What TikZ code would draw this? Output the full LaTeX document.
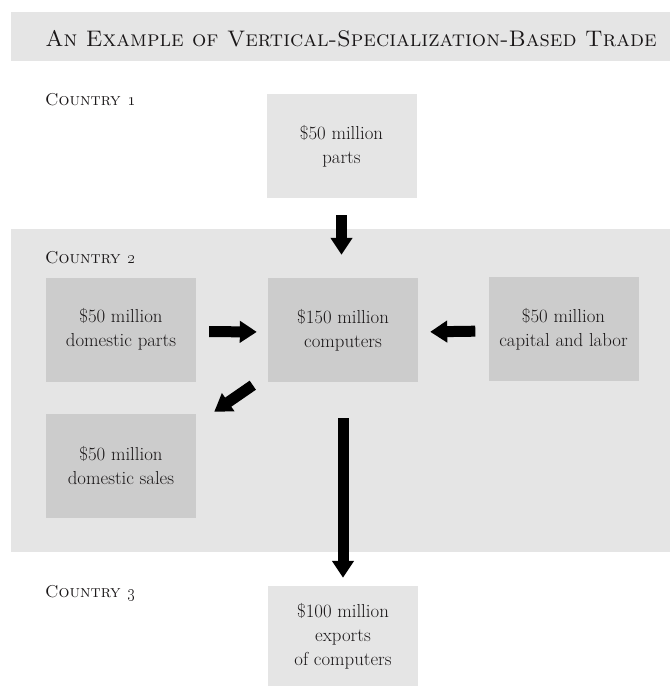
\documentclass[tikz,border=0pt]{standalone}
\usetikzlibrary{arrows.meta}
\definecolor{bandgray}{gray}{0.9}
\definecolor{boxgray}{gray}{0.8}
\definecolor{ink}{HTML}{1A1718}
\begin{document}
\begin{tikzpicture}[x=1pt,y=1pt,
  lbox/.style={fill=bandgray, minimum width=150pt, minimum height=104pt, inner sep=0pt, align=center, text=ink, font=\fontsize{18.8}{24}\selectfont},
  dbox/.style={lbox, fill=boxgray},
  country/.style={anchor=base west, inner sep=0pt, text=ink, font=\fontsize{17.2}{20}\selectfont\scshape},
  fat/.style={line width=11pt, draw=black, -{Triangle[length=17pt,width=21pt]}}
]
\useasboundingbox (0,0) rectangle (670,-686);
\fill[bandgray] (11,-12) rectangle (670,-61);
\fill[bandgray] (11,-229) rectangle (670,-552);
\node[anchor=base, inner sep=0pt, text=ink, font=\fontsize{22.5}{26}\selectfont\scshape] (title) at (351,-46) {An Example of Vertical-Specialization-Based Trade};

\node[country] (c1) at (45,-105) {Country \oldstylenums{1}};
\node[country] (c2) at (45,-263) {Country \oldstylenums{2}};
\node[country] (c3) at (45,-597) {Country \oldstylenums{3}};

\node[lbox] (parts) at (341.5,-146) {\$50 million\\parts};
\node[dbox] (dparts) at (121,-329.5) {\$50 million\\domestic parts};
\node[dbox] (comp) at (343,-330) {\$150 million\\computers};
\node[dbox] (cap) at (563.5,-329) {\$50 million\\capital and labor};
\node[dbox] (sales) at (121,-466) {\$50 million\\domestic sales};
\node[lbox, minimum height=100pt] (exports) at (343,-636) {\$100 million\\exports\\of computers};

\draw[fat, shorten <=17pt, shorten >=23pt] (parts.south) -- (parts.south |- comp.north);
\draw[fat, shorten <=13pt, shorten >=11pt] ([yshift=-2pt]dparts.east) -- ([yshift=-2pt]comp.west);
\draw[fat, shorten <=13pt, shorten >=12pt] ([yshift=-2pt]cap.west) -- ([yshift=-2pt]comp.east);
\draw[fat] ([shift={(-15pt,-3pt)}]comp.south west) -- ([shift={(18pt,2pt)}]sales.north east);
\draw[fat, shorten <=36pt, shorten >=8pt] (comp.south) -- (exports.north);
\end{tikzpicture}
\end{document}
